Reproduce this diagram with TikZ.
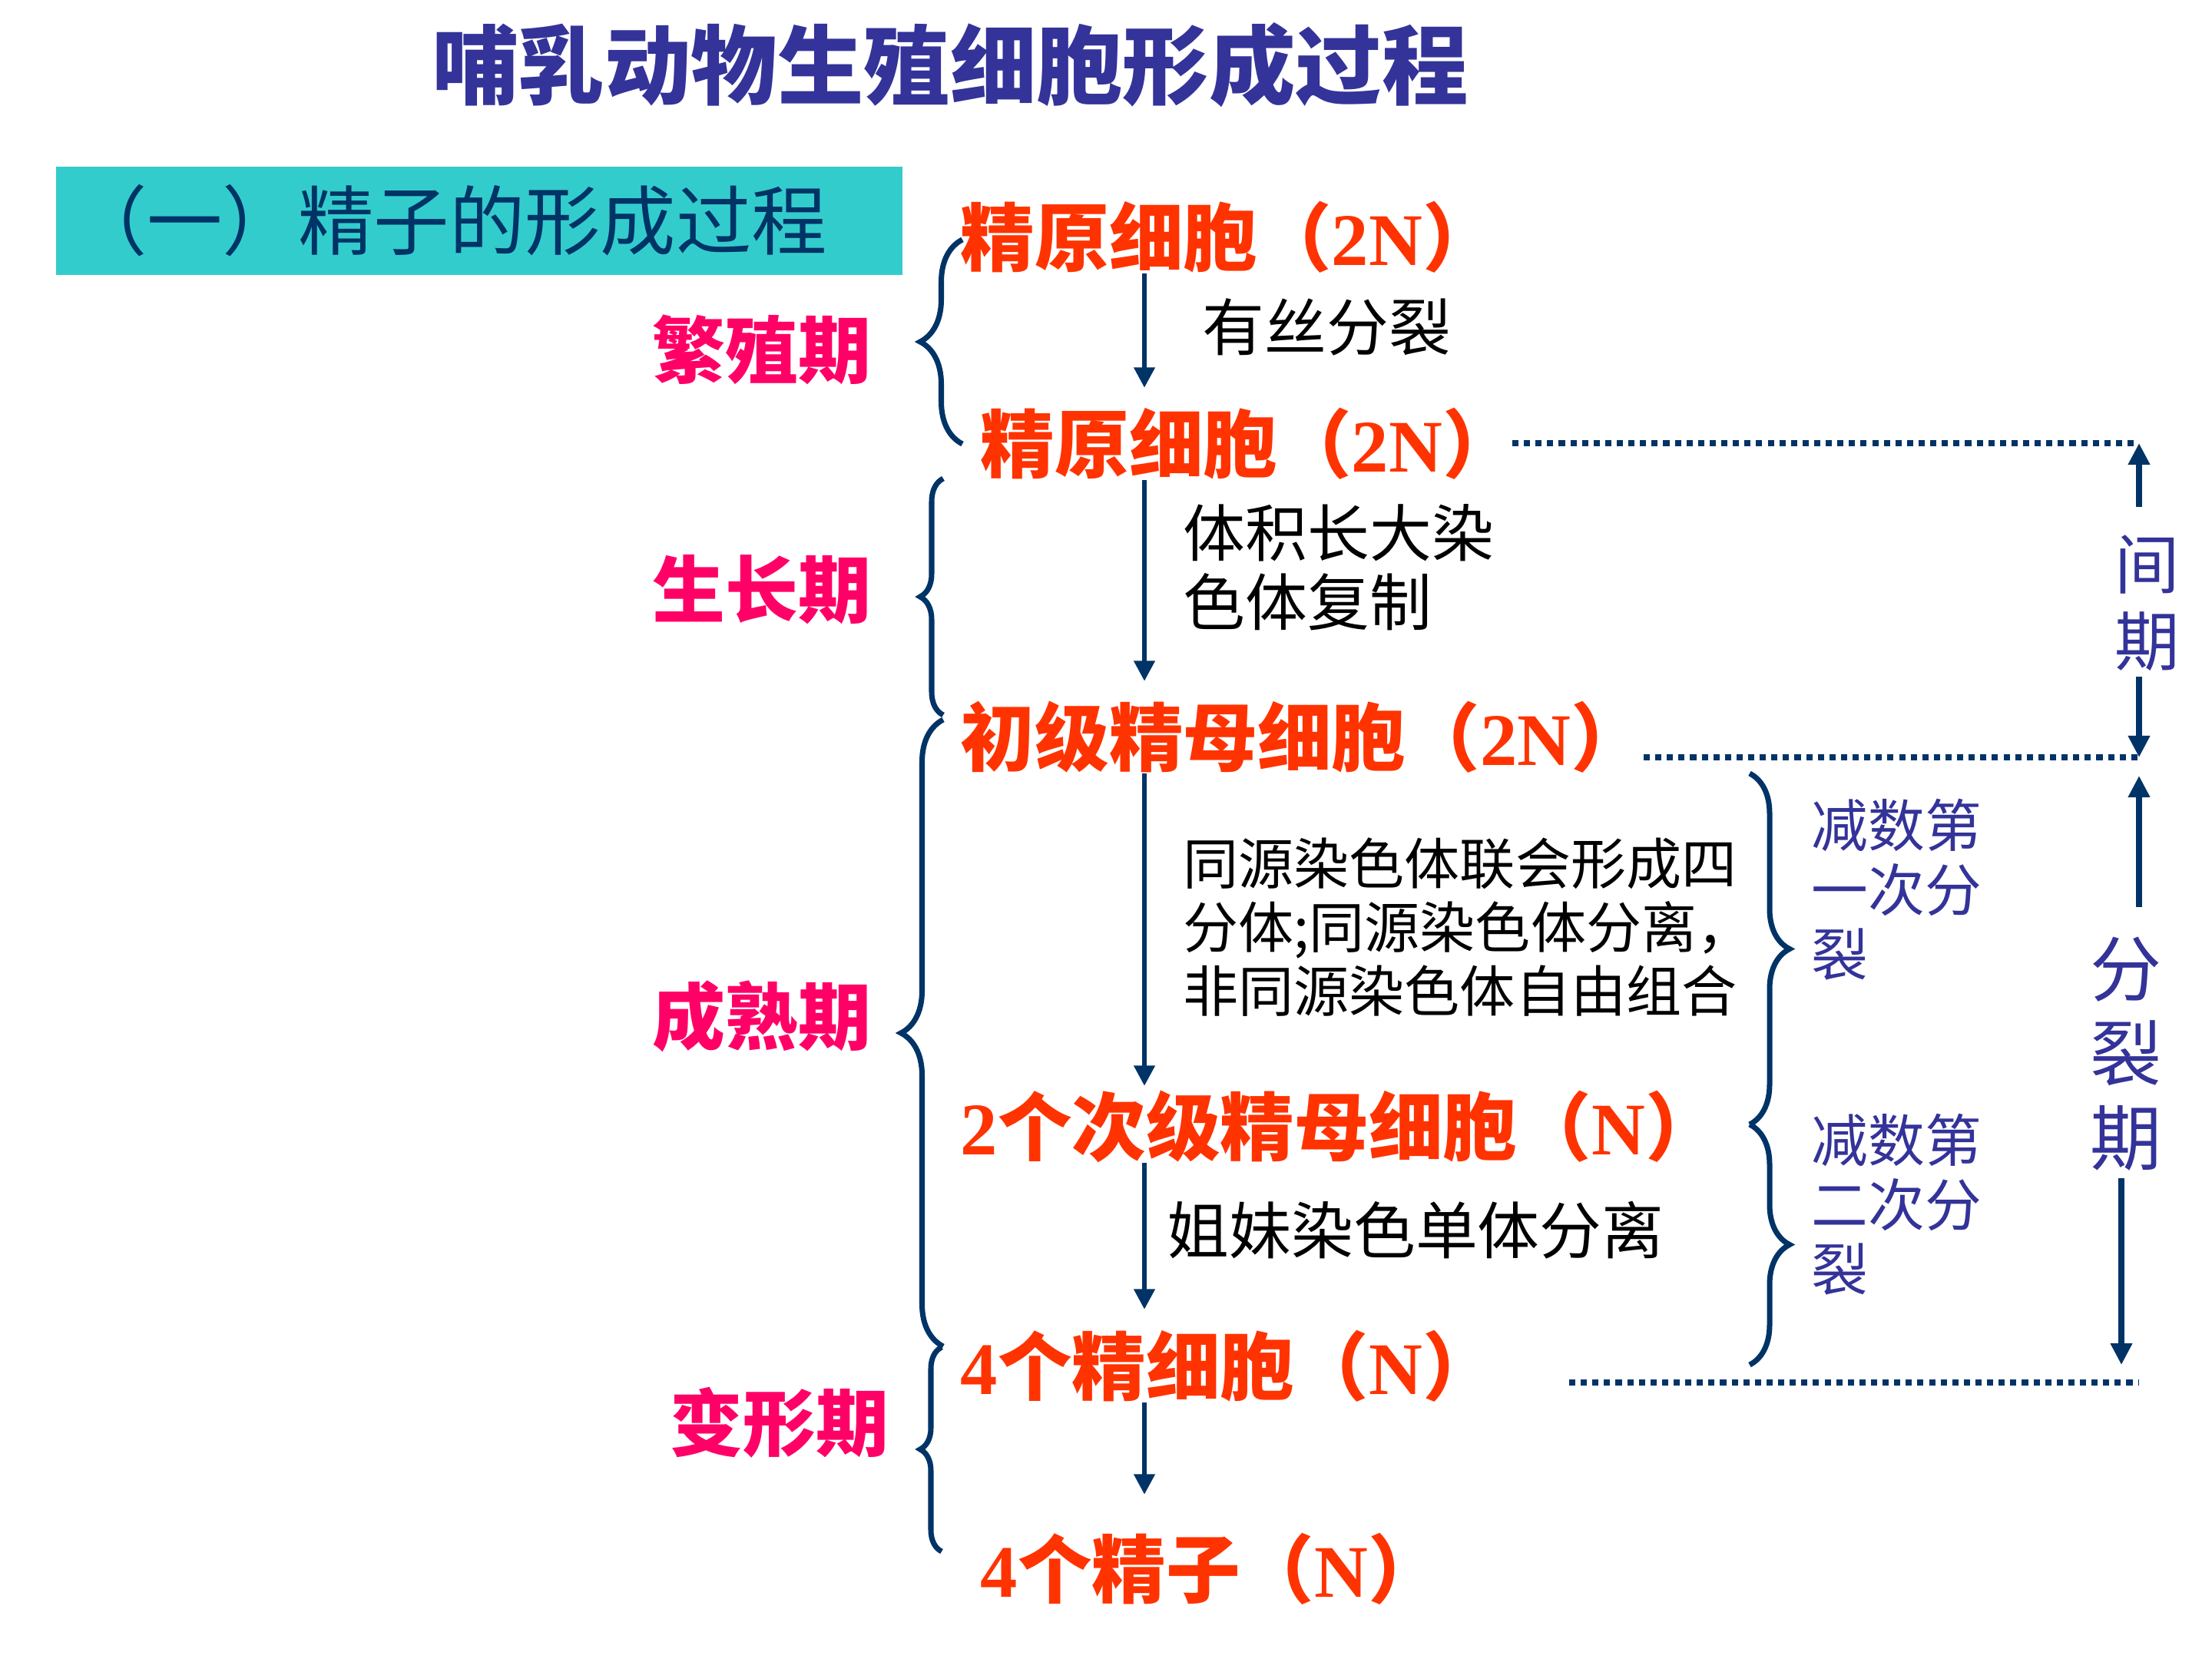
\documentclass[tikz,border=0pt]{standalone}
\usepackage{fontspec}
\setmainfont{Noto Sans CJK SC}
\newfontfamily\tnr{Liberation Serif}
\usetikzlibrary{arrows.meta,positioning,calc,decorations.pathreplacing}
\definecolor{navy}{HTML}{003366}
\definecolor{titleblue}{HTML}{333399}
\definecolor{boxcyan}{HTML}{33CCCC}
\definecolor{stagepink}{HTML}{FF0066}
\definecolor{cellred}{HTML}{FF3300}
\newcommand{\ploidy}[1]{{\tnr\bfseries #1}}

\begin{document}
\begin{tikzpicture}[
  >={Triangle[width=7.5pt,length=7.5pt]},
  cell/.style={anchor=west, inner sep=0pt, text height=22pt, text depth=2.75pt, text=cellred, font=\fontsize{27.5pt}{30pt}\selectfont\bfseries},
  stage/.style={inner sep=0pt, text=stagepink, font=\fontsize{27pt}{30pt}\selectfont\bfseries},
  steplabel/.style={anchor=west, inner sep=0pt, align=left, font=\fontsize{23pt}{25.6pt}\selectfont},
  meiosis/.style={anchor=west, inner sep=0pt, align=left, text=titleblue, font=\fontsize{21pt}{23.9pt}\selectfont},
  phaselabel/.style={inner sep=0pt, align=center, text=titleblue},
  flow/.style={->, navy, line width=1.7pt},
  spanarrow/.style={navy, line width=2.4pt, -{Triangle[width=7.7pt,length=8pt]}},
  dotline/.style={navy, line width=2.3pt, dash pattern=on 2.3pt off 2pt},
  lbrace/.style={navy, line width=2pt, decorate, decoration={brace, amplitude=#1}},
]
\useasboundingbox (0,0) rectangle (28.8,-21.6);

% title and section heading
\node[text=titleblue, font=\fontsize{32pt}{36pt}\selectfont\bfseries] (title) at (12.37,-0.85) {哺乳动物生殖细胞形成过程};
\node[fill=boxcyan, minimum width=11.02cm, minimum height=1.41cm, text width=10.62cm, inner xsep=0.2cm, align=left, text=navy, font=\fontsize{28pt}{30pt}\selectfont] (sec) at (6.24,-2.875) {（一）精子的形成过程};

% cells
\node[cell] (sg1) at (12.50,-3.12) {精原细胞（\ploidy{2N}）};
\node[cell] (sg2) at (12.76,-5.81) {精原细胞（\ploidy{2N}）};
\node[cell] (ps) at (12.50,-9.63) {初级精母细胞（\ploidy{2N}）};
\node[cell] (ss) at (12.50,-14.70) {\ploidy{2}个次级精母细胞（\ploidy{N}）};
\node[cell] (st) at (12.50,-17.82) {\ploidy{4}个精细胞（\ploidy{N}）};
\node[cell] (sz) at (12.76,-20.46) {\ploidy{4}个精子（\ploidy{N}）};

% arrows between cells
\coordinate (ax) at (14.90,0);
\draw[flow, shorten >=0.32cm] (sg1.south -| ax) -- (sg2.north -| ax);
\draw[flow, shorten >=0.32cm] (sg2.south -| ax) -- (ps.north -| ax);
\draw[flow, shorten >=0.12cm] (ps.south -| ax) -- (ss.north -| ax);
\draw[flow, shorten >=0.33cm] (ss.south -| ax) -- (st.north -| ax);
\draw[flow, shorten >=0.56cm] (st.south -| ax) -- (sz.north -| ax);

% what happens
\node[steplabel] (mit) at (15.65,-4.26) {有丝分裂};
\node[steplabel] (grow) at (15.40,-7.39) {体积长大染\\色体复制};
\node[steplabel, font=\fontsize{20.5pt}{23.6pt}\selectfont] (syn) at (15.40,-12.07) {同源染色体联会形成四\\分体;同源染色体分离，\\非同源染色体自由组合};
\node[steplabel] (sep) at (15.19,-16.02) {姐妹染色单体分离};

% stages
\node[stage] (prolif) at (9.92,-4.55) {繁殖期};
\node[stage] (growth) at (9.92,-7.68) {生长期};
\node[stage] (mature) at (9.92,-13.23) {成熟期};
\node[stage] (deform) at (10.15,-18.52) {变形期};

\draw[lbrace=0.55cm] (12.53,-5.78) -- (12.53,-3.12);
\draw[lbrace=0.30cm] (12.28,-9.31) -- (12.28,-6.23);
\draw[lbrace=0.55cm] (12.28,-17.53) -- (12.28,-9.37);
\draw[lbrace=0.28cm] (12.26,-20.20) -- (12.26,-17.54);

% meiosis I and II
\draw[lbrace=0.52cm] (22.78,-10.07) -- (22.78,-14.64);
\draw[lbrace=0.52cm] (22.78,-14.64) -- (22.78,-17.77);
\node[meiosis] (m1) at (23.58,-11.58) {减数第\\一次分\\裂};
\node[meiosis] (m2) at (23.58,-15.68) {减数第\\二次分\\裂};

% dotted guides
\coordinate (d1a) at (19.69,-5.77);
\coordinate (rim1) at (27.85,-5.77);
\coordinate (d2a) at (21.40,-9.86);
\coordinate (rim2) at (27.85,-9.86);
\coordinate (d3a) at (20.43,-18.00);
\coordinate (rim3) at (27.85,-18.00);
\draw[dotline] (d1a) -- (rim1);
\draw[dotline] (d2a) -- (rim2);
\draw[dotline] (d3a) -- (rim3);

% interphase / division
\node[phaselabel, font=\fontsize{24pt}{28.5pt}\selectfont] (inter) at (27.96,-7.85) {间\\期};
\draw[spanarrow] ($(inter.north -| rim1)+(0,0.36)$) -- (rim1);
\draw[spanarrow] ($(inter.south -| rim2)+(0,-0.07)$) -- (rim2);

\coordinate (divtop) at (27.85,-10.10);
\coordinate (divbot) at (27.62,-17.77);
\node[phaselabel, font=\fontsize{26.5pt}{31.3pt}\selectfont] (divide) at (27.68,-13.72) {分\\裂\\期};
\draw[spanarrow] ($(divide.north -| divtop)+(0,0.38)$) -- (divtop);
\draw[spanarrow] ($(divide.south -| divbot)+(0,-0.09)$) -- (divbot);
\end{tikzpicture}
\end{document}
